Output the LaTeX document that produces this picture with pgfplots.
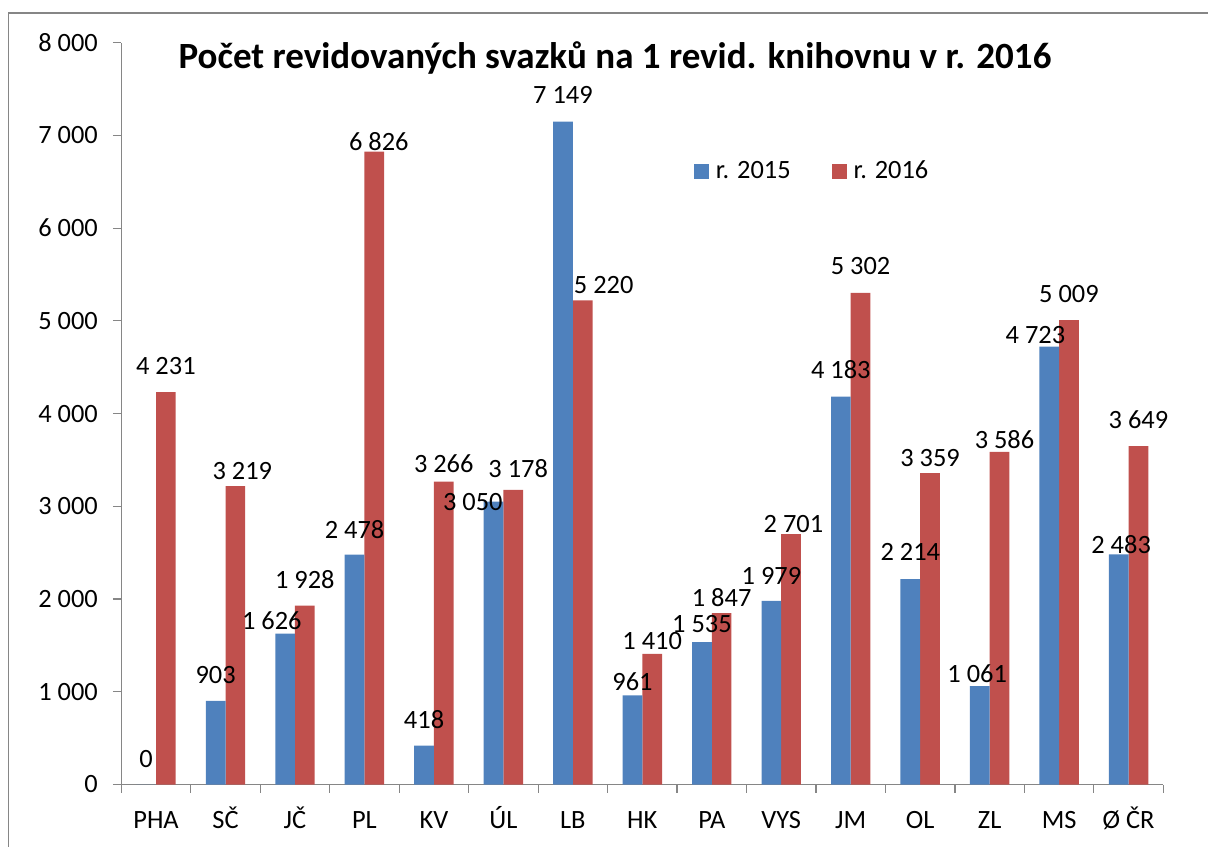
\documentclass[border=0pt]{standalone}
\usepackage{fontspec}
\setmainfont{Carlito}
\usepackage{pgfplots}
\usepackage{pgfplotstable}
\pgfplotsset{compat=1.18}
\definecolor{cblue}{HTML}{4F81BD}
\definecolor{cred}{HTML}{C0504D}
\definecolor{axgray}{HTML}{868686}

% label offsets (adx, ady, bdx, bdy) in px relative to bar top centre
\pgfplotstableread{
x a b adx ady bdx bdy
0 0 4231 0 25.5 0 26.4
1 903 3219 0 25.8 7 15
2 1626 1928 -13.3 12.7 0 25.7
3 2478 6826 0 25.4 4.5 10.3
4 418 3266 0 25.7 0 18.3
5 3050 3178 -20.7 0 5 20.8
6 7149 5220 0 26.6 21 15.4
7 961 1410 0 13.4 0 12.8
8 1535 1847 0 17.9 0 15.5
9 1979 2701 0 25 2.4 9.7
10 4183 5302 0 26.6 0 26.8
11 2214 3359 0 27.2 0 15.3
12 1061 3586 -2.6 12.4 5 12
13 4723 5009 -13.8 11.5 0 25.7
14 2483 3649 2.4 9.9 0 26.1
}\datatable

\begin{document}
\begin{tikzpicture}
\useasboundingbox (0,0) rectangle (604pt,423pt);
\draw[axgray, line width=0.7pt] (4.15pt,-10pt) -- (4.15pt,416.5pt) -- (620pt,416.5pt);
\node[anchor=base, font=\bfseries\fontsize{18.5}{22}\selectfont] at (307.5pt,388.5pt)
  {Počet revidovaných svazků na 1 revid. knihovnu v r. 2016};
\begin{axis}[
  at={(60.65pt,30.75pt)}, anchor=south west,
  scale only axis, width=521pt, height=370.9pt,
  xmin=-0.5, xmax=14.5, ymin=0, ymax=8000,
  axis lines*=left,
  axis line style={draw=axgray, line width=0.6pt},
  ytick={0,1000,...,8000},
  scaled y ticks=false,
  xtick={0,...,14},
  xticklabels={PHA,SČ,JČ,PL,KV,ÚL,LB,HK,PA,VYS,JM,OL,ZL,MS,Ø ČR},
  minor xtick={-0.5,0.5,...,14.5},
  tick align=outside,
  major tick length=4.2pt, minor tick length=4.2pt,
  tick style={draw=axgray, line width=0.6pt},
  major x tick style={draw=none},
  tick label style={font=\fontsize{13.2}{15}\selectfont},
  xticklabel style={anchor=base, yshift=-17.8pt},
  yticklabel style={xshift=-4pt},
  clip=false,
  legend style={at={(0.5496,0.8264)}, anchor=west, draw=none, fill=none,
    inner sep=0pt, outer sep=0pt, font=\fontsize{13.2}{15}\selectfont,
    nodes={inner sep=0pt},
    /tikz/every odd column/.append style={column sep=3.5pt},
    /tikz/every even column/.append style={column sep=20.5pt}},
  legend columns=2,
  reverse legend,
  legend image code/.code={\fill[#1] (0pt,-3.75pt) rectangle (7.5pt,3.75pt);},
  /pgf/number format/1000 sep={\ },
  /pgf/number format/assume math mode=true,
]
\addplot[ybar, bar width=9.85pt, bar shift=4.925pt, fill=cred, draw=none,
  nodes near coords,
  visualization depends on={\thisrow{bdx} \as \ldx},
  visualization depends on={\thisrow{bdy} \as \ldy},
  nodes near coords style={font=\fontsize{13.2}{15}\selectfont, text=black, anchor=center,
     xshift={\ldx*0.5pt+4.925pt}, yshift={\ldy*0.5pt}},
] table[x=x, y=b] {\datatable};
\addlegendentry{r. 2016}
\addplot[ybar, bar width=9.85pt, bar shift=-4.925pt, fill=cblue, draw=none,
  nodes near coords,
  visualization depends on={\thisrow{adx} \as \ldx},
  visualization depends on={\thisrow{ady} \as \ldy},
  nodes near coords style={font=\fontsize{13.2}{15}\selectfont, text=black, anchor=center,
     xshift={\ldx*0.5pt-4.925pt}, yshift={\ldy*0.5pt}},
] table[x=x, y=a] {\datatable};
\addlegendentry{r. 2015}
\end{axis}
\end{tikzpicture}
\end{document}
